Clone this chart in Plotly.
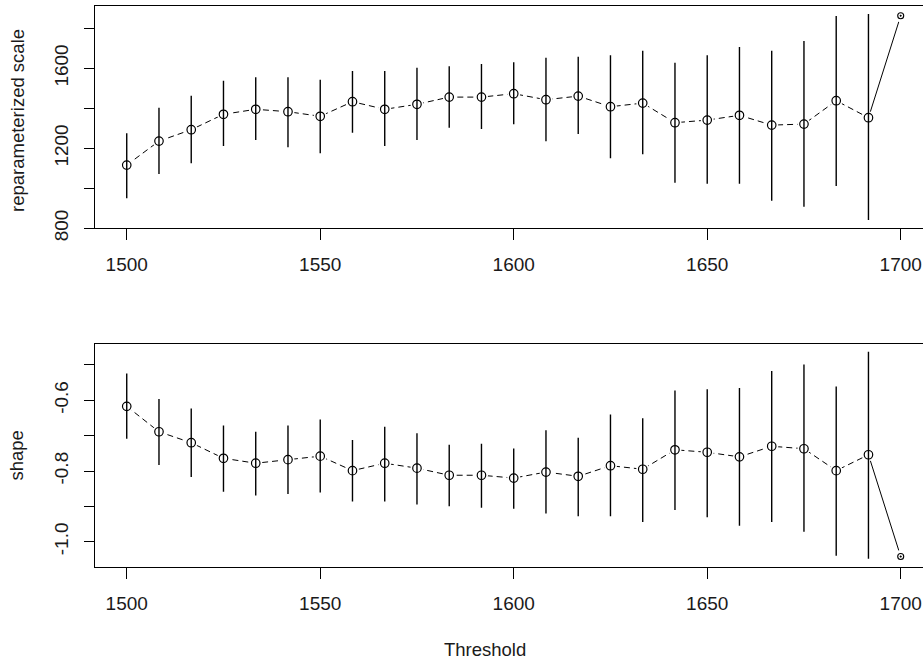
import plotly.graph_objects as go

# ---------------- data ----------------
thresholds = [1500 + i * 200 / 24 for i in range(25)]

scale_est = [1116, 1236, 1293, 1370, 1395, 1383, 1360, 1433, 1395, 1420, 1456, 1456, 1473,
             1443, 1461, 1408, 1426, 1328, 1341, 1365, 1316, 1321, 1438, 1353, 1863]
scale_lo = [950, 1071, 1125, 1211, 1241, 1205, 1175, 1278, 1211, 1241, 1303, 1296, 1320,
            1235, 1271, 1150, 1170, 1028, 1023, 1023, 938, 908, 1011, 841, 1863]
scale_hi = [1275, 1403, 1463, 1538, 1555, 1555, 1543, 1586, 1586, 1603, 1610, 1621, 1630,
            1653, 1658, 1665, 1688, 1628, 1665, 1706, 1688, 1736, 1861, 1871, 1863]

shape_est = [-0.617, -0.689, -0.720, -0.764, -0.778, -0.768, -0.758, -0.799, -0.778, -0.792,
             -0.812, -0.812, -0.820, -0.803, -0.815, -0.785, -0.795, -0.740, -0.747, -0.760,
             -0.730, -0.737, -0.799, -0.754, -1.042]
shape_lo = [-0.709, -0.783, -0.817, -0.859, -0.869, -0.865, -0.861, -0.886, -0.886, -0.895,
            -0.900, -0.904, -0.907, -0.920, -0.928, -0.928, -0.944, -0.910, -0.931, -0.955,
            -0.944, -0.972, -1.040, -1.048, -1.042]
shape_hi = [-0.524, -0.596, -0.623, -0.671, -0.689, -0.671, -0.654, -0.712, -0.675, -0.693,
            -0.726, -0.723, -0.736, -0.685, -0.706, -0.640, -0.651, -0.572, -0.569, -0.565,
            -0.517, -0.499, -0.561, -0.463, -1.042]

x_ticks = [1500, 1550, 1600, 1650, 1700]
scale_ticks = [800, 1000, 1200, 1400, 1600, 1800]
scale_ticktext = ["800", "", "1200", "", "1600", ""]
shape_ticks = [-1.0, -0.9, -0.8, -0.7, -0.6, -0.5]
shape_ticktext = ["-1.0", "", "-0.8", "", "-0.6", ""]

# ---------------- figure ----------------
W, H = 923, 661
L = 95
FONT = "Liberation Sans, Arial, sans-serif"
TXT = "#1a1a1a"
fig = go.Figure()


def add_panel(est, lo, hi, xa, ya):
    n = len(thresholds)
    normal = [i for i in range(n) if lo[i] != hi[i]]
    degen = [i for i in range(n) if lo[i] == hi[i]]
    # dashed connecting line (all but last segment)
    fig.add_trace(go.Scatter(x=thresholds[:n - 1], y=est[:n - 1], mode="lines",
                             line=dict(color="black", width=1, dash="6px,4px"),
                             xaxis=xa, yaxis=ya, hoverinfo="skip", showlegend=False))
    # final solid segment
    fig.add_trace(go.Scatter(x=thresholds[n - 2:], y=est[n - 2:], mode="lines",
                             line=dict(color="black", width=1),
                             xaxis=xa, yaxis=ya, hoverinfo="skip", showlegend=False))
    # white gaps around points (type "b" look)
    fig.add_trace(go.Scatter(x=thresholds, y=est, mode="markers",
                             marker=dict(symbol="circle", size=13, color="white",
                                         line=dict(width=0)),
                             xaxis=xa, yaxis=ya, hoverinfo="skip", showlegend=False))
    # confidence interval segments
    cx, cy = [], []
    for i in normal:
        cx += [thresholds[i], thresholds[i], None]
        cy += [lo[i], hi[i], None]
    fig.add_trace(go.Scatter(x=cx, y=cy, mode="lines",
                             line=dict(color="black", width=1.4),
                             xaxis=xa, yaxis=ya, hoverinfo="skip", showlegend=False))
    # point markers
    fig.add_trace(go.Scatter(x=[thresholds[i] for i in normal], y=[est[i] for i in normal],
                             mode="markers",
                             marker=dict(symbol="circle-open", size=8.5, color="black",
                                         line=dict(color="black", width=1.2)),
                             xaxis=xa, yaxis=ya, showlegend=False))
    fig.add_trace(go.Scatter(x=[thresholds[i] for i in degen], y=[est[i] for i in degen],
                             mode="markers",
                             marker=dict(symbol="circle-open-dot", size=6, color="black",
                                         line=dict(color="black", width=1.1)),
                             xaxis=xa, yaxis=ya, showlegend=False))


add_panel(scale_est, scale_lo, scale_hi, "x", "y")
add_panel(shape_est, shape_lo, shape_hi, "x2", "y2")

xr = [1491.8, 1705.76]
common_x = dict(range=xr, showgrid=False, zeroline=False, showline=True, mirror=True,
                linecolor="black", linewidth=1, ticks="outside", ticklen=11, tickwidth=1,
                tickcolor="black", tickvals=x_ticks, ticktext=[str(v) for v in x_ticks],
                tickfont=dict(family=FONT, size=19, color=TXT), ticklabelstandoff=8,
                automargin=False)
common_y = dict(showgrid=False, zeroline=False, showline=True, mirror=False,
                linecolor="black", linewidth=1, ticks="outside", ticklen=10, tickwidth=1,
                tickcolor="black", tickangle=-90,
                tickfont=dict(family=FONT, size=19, color=TXT), ticklabelstandoff=8,
                automargin=False)

top_dom = [(H - 228.3) / H, (H - 5.7) / H]
bot_dom = [(H - 566.7) / H, (H - 344.3) / H]

fig.update_layout(
    width=W, height=H,
    margin=dict(l=L, r=0, t=0, b=0, pad=0, autoexpand=False),
    paper_bgcolor="white", plot_bgcolor="white",
    showlegend=False,
    xaxis=dict(common_x, anchor="y"),
    yaxis=dict(common_y, domain=top_dom, anchor="x", range=[800, 1913],
               tickvals=scale_ticks, ticktext=scale_ticktext),
    xaxis2=dict(common_x, anchor="y2"),
    yaxis2=dict(common_y, domain=bot_dom, anchor="x2", range=[-1.0707, -0.4416],
                tickvals=shape_ticks, ticktext=shape_ticktext),
)

PW = W - L
fig.add_annotation(text="reparameterized scale", x=(17 - L) / PW, y=(H - 121) / H,
                   xref="paper", yref="paper", textangle=-90, showarrow=False,
                   xanchor="center", yanchor="middle",
                   font=dict(family=FONT, size=18.5, color=TXT))
fig.add_annotation(text="shape", x=(16 - L) / PW, y=(H - 455.5) / H,
                   xref="paper", yref="paper", textangle=-90, showarrow=False,
                   xanchor="center", yanchor="middle",
                   font=dict(family=FONT, size=18.5, color=TXT))
fig.add_annotation(text="Threshold", x=(484.5 - L) / PW, y=(H - 649) / H,
                   xref="paper", yref="paper", showarrow=False,
                   xanchor="center", yanchor="middle",
                   font=dict(family=FONT, size=18.5, color=TXT))

fig.write_html("out.html")
